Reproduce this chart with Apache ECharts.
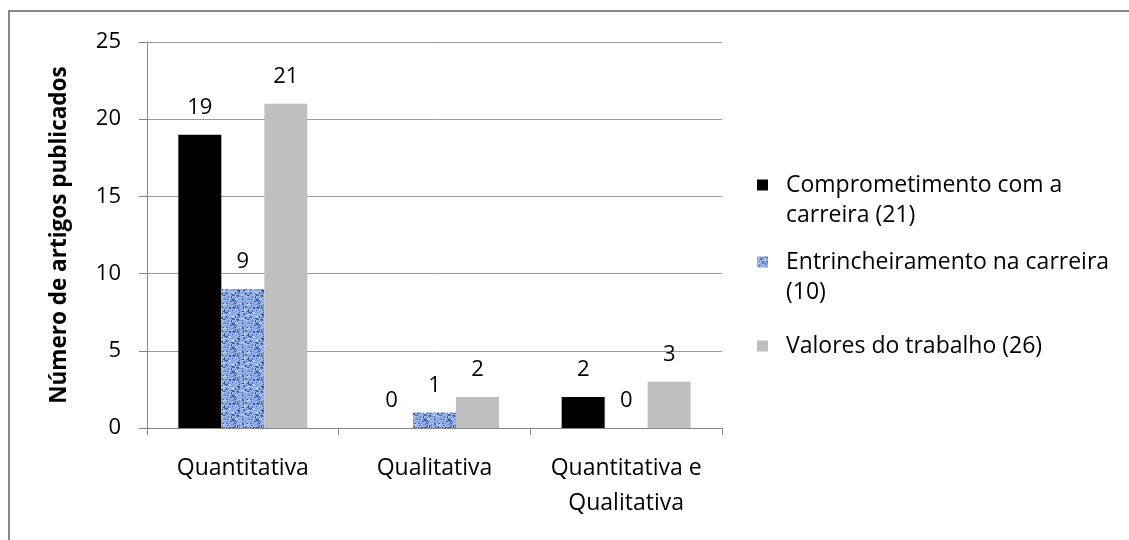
<!DOCTYPE html>
<html>
<head>
<meta charset="utf-8">
<script src="https://cdn.jsdelivr.net/npm/echarts@6/dist/echarts.min.js"></script>
<style>
  html, body { margin: 0; padding: 0; background: #fff; }
  #chart { width: 1129px; height: 540px; }
</style>
</head>
<body>
<div id="chart"></div>
<script>
var categories = ['Quantitativa', 'Qualitativa', 'Quantitativa e\nQualitativa'];
var seriesNames = ['Comprometimento com a carreira (21)', 'Entrincheiramento na carreira (10)', 'Valores do trabalho (26)'];
var legendLines = [' \nComprometimento com a\ncarreira (21)', ' \nEntrincheiramento na carreira\n(10)', 'Valores do trabalho (26)'];
var comprometimento = [19, 0, 2];
var entrincheiramento = [9, 1, 0];
var valores = [21, 2, 3];
var yTicks = [0, 5, 10, 15, 20, 25];

// textura azul (tipo "tecido") feita num canvas, gerador fixo
function blueTexture() {
    var c = document.createElement('canvas');
    c.width = 24; c.height = 24;
    var ctx = c.getContext('2d');
    ctx.fillStyle = '#95b1e6';
    ctx.fillRect(0, 0, 24, 24);
    var s = 12345;
    function rnd() { s = (s * 1103515245 + 12345) % 2147483648; return s / 2147483648; }
    var cols = ['#34549a', '#4868b0', '#6c8cd0', '#b7ccf2', '#3f5fa6'];
    for (var i = 0; i < 130; i++) {
        ctx.fillStyle = cols[Math.floor(rnd() * cols.length)];
        ctx.fillRect(Math.floor(rnd() * 24), Math.floor(rnd() * 24), 1 + Math.floor(rnd() * 2), 1 + Math.floor(rnd() * 2));
    }
    return c;
}

var myChart = echarts.init(document.getElementById('chart'));
var font = '"Open Sans", Lato, sans-serif';
var labelStyle = { show: true, position: 'top', distance: 16, color: '#000', fontSize: 22, fontFamily: font };

function legendItem(i, top) {
    return {
        data: [{ name: seriesNames[i], icon: 'rect' }],
        orient: 'vertical',
        left: 757,
        top: top,
        padding: 0,
        itemWidth: 11,
        itemHeight: 11,
        itemGap: 0,
        formatter: function () { return legendLines[i]; },
        textStyle: { color: '#000', fontSize: 23, fontFamily: font, lineHeight: 30, padding: [0, 0, 0, 13] }
    };
}

var option = {
    backgroundColor: '#fff',
    animation: false,
    graphic: [{
        type: 'rect',
        shape: { x: 9, y: 11, width: 1300, height: 700 },
        style: { fill: 'none', stroke: '#888', lineWidth: 2 }
    }],
    legend: [legendItem(0, 140), legendItem(1, 217), legendItem(2, 331)],
    grid: { left: 147, right: 407, top: 42, bottom: 112 },
    xAxis: {
        type: 'category',
        data: categories,
        axisLine: { lineStyle: { color: '#868686', width: 1 } },
        axisTick: { show: true, length: 7, alignWithLabel: false, lineStyle: { color: '#868686' } },
        axisLabel: { color: '#000', fontSize: 23, fontFamily: font, margin: 23, lineHeight: 35, interval: 0 }
    },
    yAxis: {
        type: 'value',
        min: yTicks[0],
        max: yTicks[yTicks.length - 1],
        interval: 5,
        name: 'Número de artigos publicados',
        nameLocation: 'middle',
        nameGap: 76,
        nameTextStyle: { color: '#000', fontSize: 22.5, fontWeight: 'bold', fontFamily: font },
        axisLine: { show: true, lineStyle: { color: '#868686', width: 1 } },
        axisTick: { show: true, length: 8, lineStyle: { color: '#868686' } },
        axisLabel: { color: '#000', fontSize: 22, fontFamily: font, margin: 26 },
        splitLine: { lineStyle: { color: '#9a9a9a', width: 1 } }
    },
    series: [{
        name: seriesNames[0],
        type: 'bar',
        data: comprometimento,
        barWidth: 43,
        barGap: '0%',
        itemStyle: { color: '#000' },
        label: labelStyle
    }, {
        name: seriesNames[1],
        type: 'bar',
        data: entrincheiramento,
        barWidth: 43,
        barGap: '0%',
        itemStyle: { color: { image: blueTexture(), repeat: 'repeat' } },
        label: labelStyle
    }, {
        name: seriesNames[2],
        type: 'bar',
        data: valores,
        barWidth: 43,
        barGap: '0%',
        itemStyle: { color: '#bfbfbf' },
        label: labelStyle
    }]
};

myChart.setOption(option);
</script>
</body>
</html>
